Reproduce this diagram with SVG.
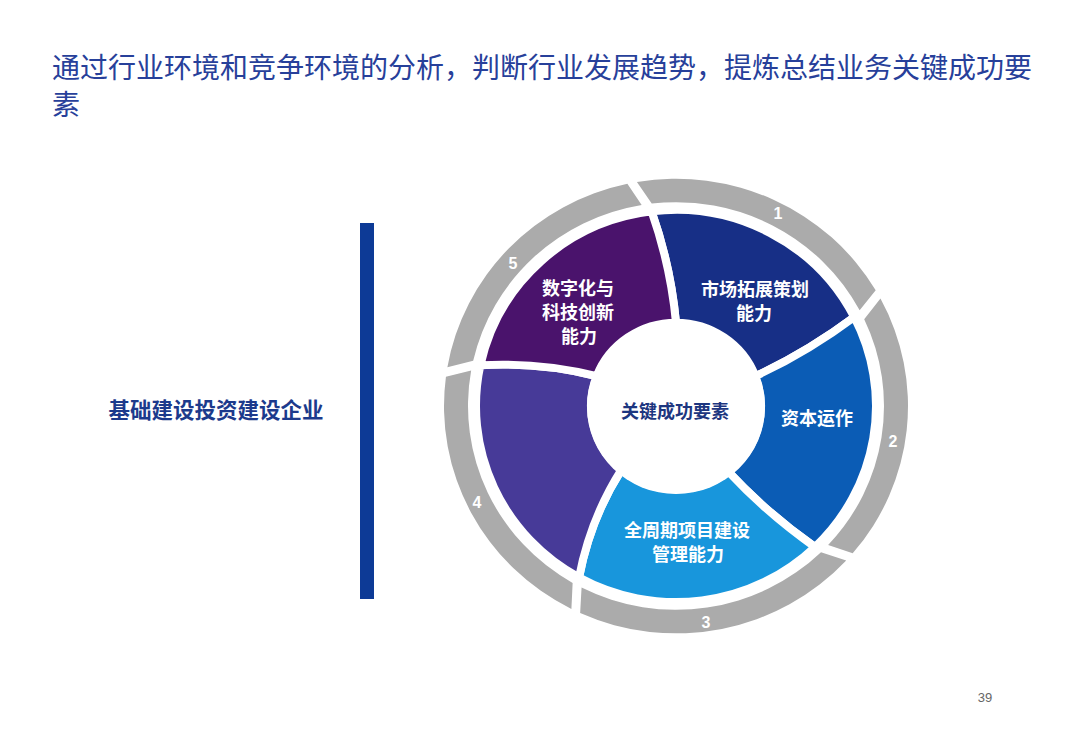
<svg xmlns="http://www.w3.org/2000/svg" width="1080" height="748" viewBox="0 0 1080 748">
<style>
.title{font-family:"Noto Sans CJK SC","Noto Sans",sans-serif;font-size:28px;fill:#27409a}
.lbl{font-family:"Noto Sans CJK SC","Noto Sans",sans-serif;font-size:18px;font-weight:700;fill:#ffffff;text-anchor:middle;dominant-baseline:central}
.ctr{font-family:"Noto Sans CJK SC","Noto Sans",sans-serif;font-size:18px;font-weight:700;fill:#1d3680;text-anchor:middle;dominant-baseline:central}
.side{font-family:"Noto Sans CJK SC","Noto Sans",sans-serif;font-size:21.5px;font-weight:700;fill:#1c3a8c;text-anchor:middle;dominant-baseline:central}
.num{font-family:"Liberation Sans",Arial,sans-serif;font-size:16px;font-weight:700;fill:#ffffff;text-anchor:middle;dominant-baseline:central}
.pg{font-family:"Liberation Sans",Arial,sans-serif;font-size:13px;fill:#666666;text-anchor:middle;dominant-baseline:central}
.seg{stroke:#ffffff;stroke-width:8;stroke-linejoin:round}
.ring{fill:#ababab}
</style>
<rect width="1080" height="748" fill="#ffffff"/>
<g id="title">
<text class="title" x="52" y="78">通过行业环境和竞争环境的分析，判断行业发展趋势，提炼总结业务关键成功要</text>
<text class="title" x="52" y="115">素</text>
</g>
<g id="enterprise">
<rect x="360" y="223" width="14" height="376" fill="#0d3a96"/>
<text class="side" x="216" y="408">基础建设投资建设企业</text>
</g>
<g id="connectors"></g>
<g id="seg1">
<g transform="translate(676 406) scale(1 0.98)">
<path class="ring" d="M -39.09 -228.68 A 232 232 0 0 1 199.69 -118.10 L 183.65 -97.65 A 208 208 0 0 0 -24.27 -206.58 Z"/>
<path class="seg" fill="#172f86" d="M -24.37 -198.51 A 200 200 0 0 1 178.20 -90.80 Q 131.58 -55.29 79.35 -30.46 A 85 85 0 0 0 0 -85 Q -5.21 -142.71 -24.37 -198.51 Z"/>
</g>
<text class="num" x="778" y="213">1</text>
<text class="lbl" x="755" y="288">市场拓展策划</text>
<text class="lbl" x="754" y="312">能力</text>
</g>
<g id="seg2">
<g transform="translate(676 406) scale(1 0.98)">
<path class="ring" d="M 204.46 -109.63 A 232 232 0 0 1 176.68 150.36 L 152.12 141.86 A 208 208 0 0 0 188.20 -88.56 Z"/>
<path class="seg" fill="#0b5cb5" d="M 178.20 -90.80 A 200 200 0 0 1 138.93 143.87 Q 91.35 109.67 52.33 66.98 A 85 85 0 0 0 79.35 -30.46 Q 131.58 -55.29 178.20 -90.80 Z"/>
</g>
<text class="num" x="893" y="441">2</text>
<text class="lbl" x="817" y="417">资本运作</text>
</g>
<g id="seg3">
<g transform="translate(676 406) scale(1 0.98)">
<path class="ring" d="M 170.23 157.63 A 232 232 0 0 1 -95.84 211.28 L -94.43 185.33 A 208 208 0 0 0 145.01 149.12 Z"/>
<path class="seg" fill="#1896dc" d="M 138.93 143.87 A 200 200 0 0 1 -96.96 174.92 Q -85.62 114.86 -54.64 65.11 A 85 85 0 0 0 52.33 66.98 Q 91.35 109.67 138.93 143.87 Z"/>
</g>
<text class="num" x="706" y="622">3</text>
<text class="lbl" x="687" y="529">全周期项目建设</text>
<text class="lbl" x="688" y="553">管理能力</text>
</g>
<g id="seg4">
<g transform="translate(676 406) scale(1 0.98)">
<path class="ring" d="M -104.60 207.08 A 232 232 0 0 1 -230.07 -29.88 L -204.84 -36.12 A 208 208 0 0 0 -103.37 180.50 Z"/>
<path class="seg" fill="#473a98" d="M -96.96 174.92 A 200 200 0 0 1 -195.63 -41.58 Q -135.77 -44.92 -79.35 -30.46 A 85 85 0 0 0 -54.64 65.11 Q -85.62 114.86 -96.96 174.92 Z"/>
</g>
<text class="num" x="477" y="502">4</text>
</g>
<g id="seg5">
<g transform="translate(676 406) scale(1 0.98)">
<path class="ring" d="M -228.62 -39.49 A 232 232 0 0 1 -48.63 -226.84 L -34.33 -205.15 A 208 208 0 0 0 -202.83 -46.07 Z"/>
<path class="seg" fill="#4a136c" d="M -195.63 -41.58 A 200 200 0 0 1 -24.37 -198.51 Q -5.21 -142.71 0 -85 A 85 85 0 0 0 -79.35 -30.46 Q -135.77 -44.92 -195.63 -41.58 Z"/>
</g>
<text class="num" x="513" y="263">5</text>
<text class="lbl" x="578" y="287">数字化与</text>
<text class="lbl" x="578" y="311">科技创新</text>
<text class="lbl" x="579" y="335">能力</text>
</g>
<g id="center">
<ellipse cx="676" cy="407" rx="89" ry="87" fill="#ffffff"/>
<text class="ctr" x="675" y="410">关键成功要素</text>
</g>
<g id="page">
<text class="pg" x="985" y="697">39</text>
</g>
</svg>
